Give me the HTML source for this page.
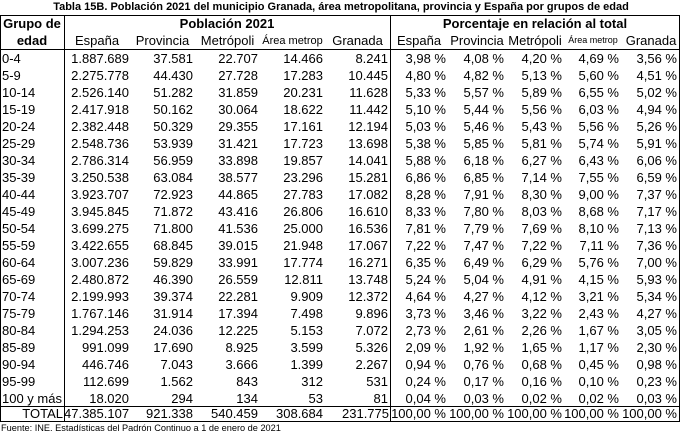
<!DOCTYPE html>
<html><head><meta charset="utf-8"><style>
html,body{margin:0;padding:0;background:#fff;}
body{width:682px;height:434px;position:relative;overflow:hidden;font-family:"Liberation Sans",Arial,sans-serif;color:#000;}
.t{position:absolute;left:0;width:682px;top:1px;text-align:center;font-weight:bold;font-size:11px;line-height:13px;white-space:nowrap;}
.ln{position:absolute;background:#000;}
.r{position:absolute;left:0;width:682px;height:17px;line-height:17px;font-size:13px;}
.r span{position:absolute;top:0;text-align:right;white-space:nowrap;}
.r span.g{left:2px;text-align:left;}
.a{left:64px;width:65px}
.b{left:130px;width:63px}
.c{left:195px;width:63px}
.d{left:260px;width:63px}
.e{left:325px;width:63px}
.f{left:390px;width:56px}
.h{left:448px;width:56px}
.i{left:506px;width:56px}
.j{left:564px;width:55px}
.k{left:622px;width:55px}
.hd{position:absolute;line-height:17px;font-size:13px;text-align:center;white-space:nowrap;}
.bold{font-weight:bold;}
.src{position:absolute;left:1px;top:423px;font-size:9.2px;line-height:10px;white-space:nowrap;}
</style></head><body>
<div class="t">Tabla 15B. Población 2021 del municipio Granada, área metropolitana, provincia y España por grupos de edad</div>

<div class="ln" style="left:0;top:15px;width:680px;height:1px"></div>
<div class="ln" style="left:0;top:49px;width:680px;height:1px"></div>
<div class="ln" style="left:0;top:406px;width:680px;height:1px"></div>
<div class="ln" style="left:0;top:421px;width:680px;height:1px"></div>
<div class="ln" style="left:0;top:15px;width:1px;height:407px"></div>
<div class="ln" style="left:64px;top:15px;width:1px;height:407px"></div>
<div class="ln" style="left:390px;top:15px;width:1px;height:407px"></div>
<div class="ln" style="left:679px;top:15px;width:1px;height:407px"></div>

<div class="hd bold" style="left:0;width:64px;top:15px">Grupo de</div>
<div class="hd bold" style="left:0;width:64px;top:32px">edad</div>
<div class="hd bold" style="left:64px;width:326px;top:15px">Población 2021</div>
<div class="hd bold" style="left:390px;width:290px;top:15px">Porcentaje en relación al total</div>

<div class="hd" style="left:64px;width:66px;top:32px">España</div>
<div class="hd" style="left:130px;width:65px;top:32px">Provincia</div>
<div class="hd" style="left:195px;width:65px;top:32px">Metrópoli</div>
<div class="hd" style="left:260px;width:65px;top:33px;font-size:11px">Área metrop</div>
<div class="hd" style="left:325px;width:65px;top:32px">Granada</div>
<div class="hd" style="left:390px;width:58px;top:32px">España</div>
<div class="hd" style="left:448px;width:58px;top:32px">Provincia</div>
<div class="hd" style="left:506px;width:58px;top:32px">Metrópoli</div>
<div class="hd" style="left:564px;width:58px;top:33px;font-size:9px;line-height:14px">Área metrop</div>
<div class="hd" style="left:622px;width:58px;top:32px">Granada</div>

<div class="r" style="top:50px"><span class="g">0-4</span><span class="a">1.887.689</span><span class="b">37.581</span><span class="c">22.707</span><span class="d">14.466</span><span class="e">8.241</span><span class="f">3,98 %</span><span class="h">4,08 %</span><span class="i">4,20 %</span><span class="j">4,69 %</span><span class="k">3,56 %</span></div>
<div class="r" style="top:67px"><span class="g">5-9</span><span class="a">2.275.778</span><span class="b">44.430</span><span class="c">27.728</span><span class="d">17.283</span><span class="e">10.445</span><span class="f">4,80 %</span><span class="h">4,82 %</span><span class="i">5,13 %</span><span class="j">5,60 %</span><span class="k">4,51 %</span></div>
<div class="r" style="top:84px"><span class="g">10-14</span><span class="a">2.526.140</span><span class="b">51.282</span><span class="c">31.859</span><span class="d">20.231</span><span class="e">11.628</span><span class="f">5,33 %</span><span class="h">5,57 %</span><span class="i">5,89 %</span><span class="j">6,55 %</span><span class="k">5,02 %</span></div>
<div class="r" style="top:101px"><span class="g">15-19</span><span class="a">2.417.918</span><span class="b">50.162</span><span class="c">30.064</span><span class="d">18.622</span><span class="e">11.442</span><span class="f">5,10 %</span><span class="h">5,44 %</span><span class="i">5,56 %</span><span class="j">6,03 %</span><span class="k">4,94 %</span></div>
<div class="r" style="top:118px"><span class="g">20-24</span><span class="a">2.382.448</span><span class="b">50.329</span><span class="c">29.355</span><span class="d">17.161</span><span class="e">12.194</span><span class="f">5,03 %</span><span class="h">5,46 %</span><span class="i">5,43 %</span><span class="j">5,56 %</span><span class="k">5,26 %</span></div>
<div class="r" style="top:135px"><span class="g">25-29</span><span class="a">2.548.736</span><span class="b">53.939</span><span class="c">31.421</span><span class="d">17.723</span><span class="e">13.698</span><span class="f">5,38 %</span><span class="h">5,85 %</span><span class="i">5,81 %</span><span class="j">5,74 %</span><span class="k">5,91 %</span></div>
<div class="r" style="top:152px"><span class="g">30-34</span><span class="a">2.786.314</span><span class="b">56.959</span><span class="c">33.898</span><span class="d">19.857</span><span class="e">14.041</span><span class="f">5,88 %</span><span class="h">6,18 %</span><span class="i">6,27 %</span><span class="j">6,43 %</span><span class="k">6,06 %</span></div>
<div class="r" style="top:169px"><span class="g">35-39</span><span class="a">3.250.538</span><span class="b">63.084</span><span class="c">38.577</span><span class="d">23.296</span><span class="e">15.281</span><span class="f">6,86 %</span><span class="h">6,85 %</span><span class="i">7,14 %</span><span class="j">7,55 %</span><span class="k">6,59 %</span></div>
<div class="r" style="top:186px"><span class="g">40-44</span><span class="a">3.923.707</span><span class="b">72.923</span><span class="c">44.865</span><span class="d">27.783</span><span class="e">17.082</span><span class="f">8,28 %</span><span class="h">7,91 %</span><span class="i">8,30 %</span><span class="j">9,00 %</span><span class="k">7,37 %</span></div>
<div class="r" style="top:203px"><span class="g">45-49</span><span class="a">3.945.845</span><span class="b">71.872</span><span class="c">43.416</span><span class="d">26.806</span><span class="e">16.610</span><span class="f">8,33 %</span><span class="h">7,80 %</span><span class="i">8,03 %</span><span class="j">8,68 %</span><span class="k">7,17 %</span></div>
<div class="r" style="top:220px"><span class="g">50-54</span><span class="a">3.699.275</span><span class="b">71.800</span><span class="c">41.536</span><span class="d">25.000</span><span class="e">16.536</span><span class="f">7,81 %</span><span class="h">7,79 %</span><span class="i">7,69 %</span><span class="j">8,10 %</span><span class="k">7,13 %</span></div>
<div class="r" style="top:237px"><span class="g">55-59</span><span class="a">3.422.655</span><span class="b">68.845</span><span class="c">39.015</span><span class="d">21.948</span><span class="e">17.067</span><span class="f">7,22 %</span><span class="h">7,47 %</span><span class="i">7,22 %</span><span class="j">7,11 %</span><span class="k">7,36 %</span></div>
<div class="r" style="top:254px"><span class="g">60-64</span><span class="a">3.007.236</span><span class="b">59.829</span><span class="c">33.991</span><span class="d">17.774</span><span class="e">16.271</span><span class="f">6,35 %</span><span class="h">6,49 %</span><span class="i">6,29 %</span><span class="j">5,76 %</span><span class="k">7,00 %</span></div>
<div class="r" style="top:271px"><span class="g">65-69</span><span class="a">2.480.872</span><span class="b">46.390</span><span class="c">26.559</span><span class="d">12.811</span><span class="e">13.748</span><span class="f">5,24 %</span><span class="h">5,04 %</span><span class="i">4,91 %</span><span class="j">4,15 %</span><span class="k">5,93 %</span></div>
<div class="r" style="top:288px"><span class="g">70-74</span><span class="a">2.199.993</span><span class="b">39.374</span><span class="c">22.281</span><span class="d">9.909</span><span class="e">12.372</span><span class="f">4,64 %</span><span class="h">4,27 %</span><span class="i">4,12 %</span><span class="j">3,21 %</span><span class="k">5,34 %</span></div>
<div class="r" style="top:305px"><span class="g">75-79</span><span class="a">1.767.146</span><span class="b">31.914</span><span class="c">17.394</span><span class="d">7.498</span><span class="e">9.896</span><span class="f">3,73 %</span><span class="h">3,46 %</span><span class="i">3,22 %</span><span class="j">2,43 %</span><span class="k">4,27 %</span></div>
<div class="r" style="top:322px"><span class="g">80-84</span><span class="a">1.294.253</span><span class="b">24.036</span><span class="c">12.225</span><span class="d">5.153</span><span class="e">7.072</span><span class="f">2,73 %</span><span class="h">2,61 %</span><span class="i">2,26 %</span><span class="j">1,67 %</span><span class="k">3,05 %</span></div>
<div class="r" style="top:339px"><span class="g">85-89</span><span class="a">991.099</span><span class="b">17.690</span><span class="c">8.925</span><span class="d">3.599</span><span class="e">5.326</span><span class="f">2,09 %</span><span class="h">1,92 %</span><span class="i">1,65 %</span><span class="j">1,17 %</span><span class="k">2,30 %</span></div>
<div class="r" style="top:356px"><span class="g">90-94</span><span class="a">446.746</span><span class="b">7.043</span><span class="c">3.666</span><span class="d">1.399</span><span class="e">2.267</span><span class="f">0,94 %</span><span class="h">0,76 %</span><span class="i">0,68 %</span><span class="j">0,45 %</span><span class="k">0,98 %</span></div>
<div class="r" style="top:373px"><span class="g">95-99</span><span class="a">112.699</span><span class="b">1.562</span><span class="c">843</span><span class="d">312</span><span class="e">531</span><span class="f">0,24 %</span><span class="h">0,17 %</span><span class="i">0,16 %</span><span class="j">0,10 %</span><span class="k">0,23 %</span></div>
<div class="r" style="top:390px"><span class="g">100 y más</span><span class="a">18.020</span><span class="b">294</span><span class="c">134</span><span class="d">53</span><span class="e">81</span><span class="f">0,04 %</span><span class="h">0,03 %</span><span class="i">0,02 %</span><span class="j">0,02 %</span><span class="k">0,03 %</span></div>
<div class="r" style="top:405px"><span style="left:0;width:63px">TOTAL</span><span class="a">47.385.107</span><span class="b">921.338</span><span class="c">540.459</span><span class="d">308.684</span><span class="e" style="width:64px">231.775</span><span class="f">100,00 %</span><span class="h">100,00 %</span><span class="i">100,00 %</span><span class="j">100,00 %</span><span class="k">100,00 %</span></div>

<div class="src">Fuente: INE. Estadísticas del Padrón Continuo a 1 de enero de 2021</div>
</body></html>
